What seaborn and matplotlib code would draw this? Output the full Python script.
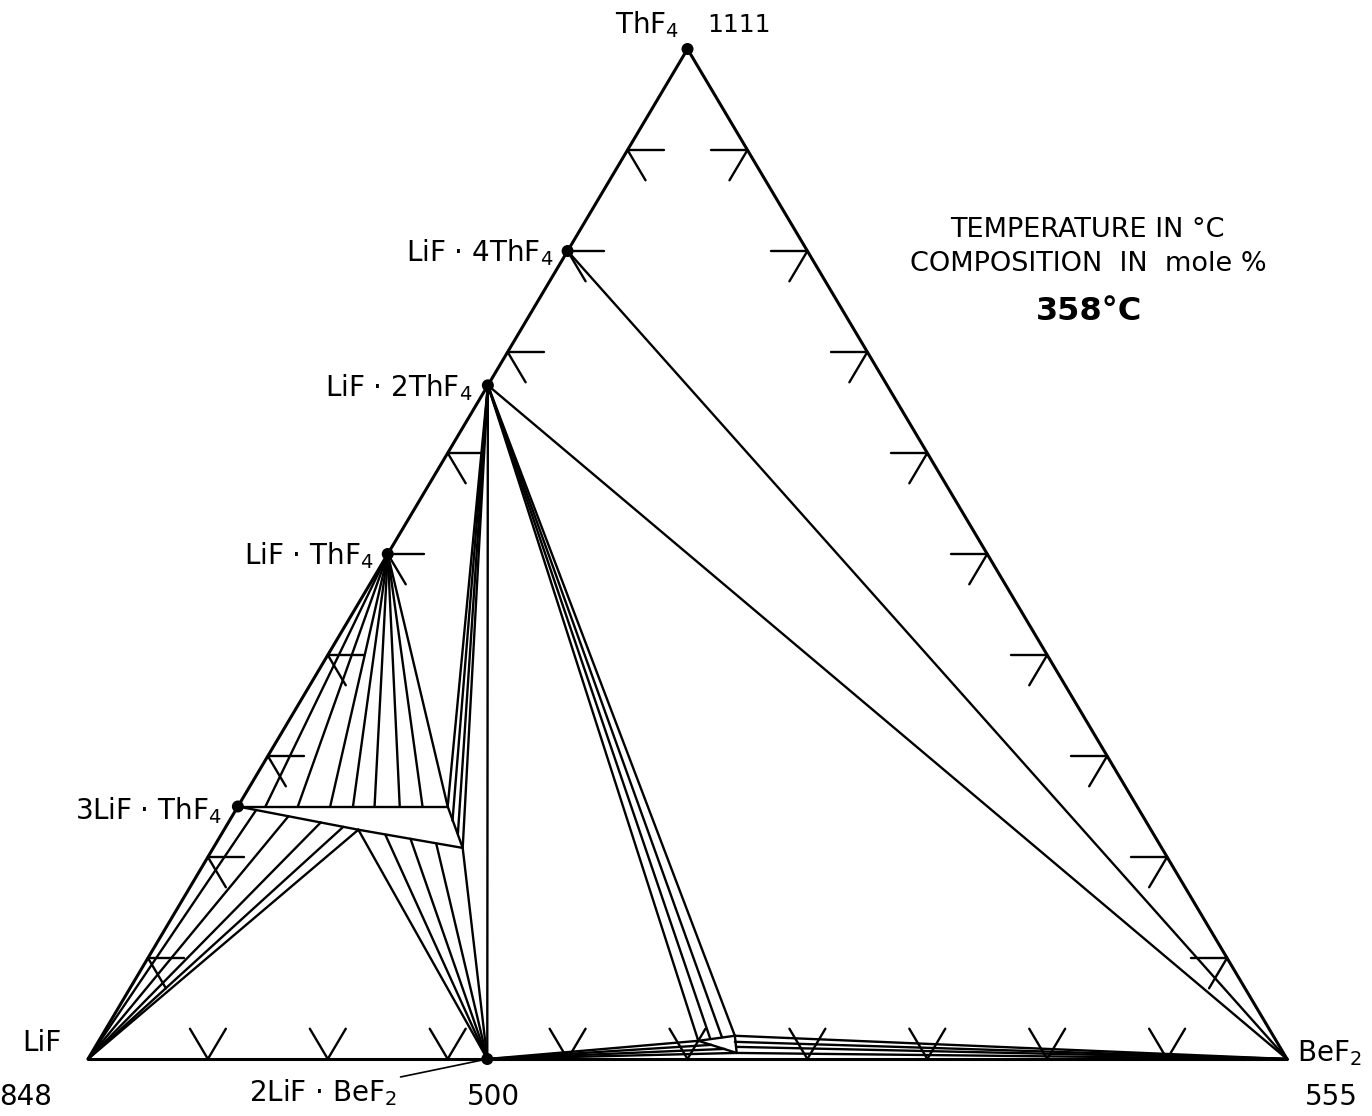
import numpy as np
import pandas as pd
import matplotlib
matplotlib.use("Agg")
import matplotlib.pyplot as plt
import seaborn as sns

# ---------------------------------------------------------------------------
# Compositions are (mol % BeF2, mol % ThF4); LiF makes up the balance.
# ---------------------------------------------------------------------------
LIF = (0.0, 0.0)
BEF2 = (100.0, 0.0)
THF4 = (0.0, 100.0)
LIF_4THF4 = (0.0, 80.0)
LIF_2THF4 = (0.0, 66.7)
LIF_THF4 = (0.0, 50.0)
LI3THF7 = (0.0, 25.0)          # 3LiF·ThF4
LI2BEF4 = (33.3, 0.0)          # 2LiF·BeF2

# 3LiF·ThF4 solid-solution field (corner points)
ss_bef2 = [0.0, 17.5, 20.8, 11.2]
ss_thf4 = [25.0, 25.0, 20.9, 22.7]

# tie lines LiF·ThF4 -> solid solution (upper edge of the field)
tie_lt_bef2 = [2.3, 5.0, 7.7, 9.6, 11.4, 13.5, 15.4, 17.5]
tie_lt_thf4 = [25.0, 25.0, 25.0, 25.0, 25.0, 25.0, 25.0, 25.0]

# tie lines LiF -> solid solution
tie_lif_bef2 = [1.7, 4.7, 7.7, 9.8, 11.2]
tie_lif_thf4 = [24.65, 24.04, 23.42, 22.99, 22.7]

# tie lines 2LiF·BeF2 -> solid solution
tie_lb_bef2 = [11.2, 13.7, 16.0, 18.4, 20.8]
tie_lb_thf4 = [22.7, 22.2, 21.8, 21.3, 20.9]

# tie lines LiF·2ThF4 -> solid solution
tie_l2t_ss_bef2 = [17.5, 18.6, 19.7, 20.8]
tie_l2t_ss_thf4 = [25.0, 23.6, 22.3, 20.9]

# liquid field at 358 °C (corners A, B, C)
liq_bef2 = [50.0, 52.8, 53.8]
liq_thf4 = [1.8, 2.3, 0.6]

# tie lines to the liquid
tie_l2t_liq_bef2 = [50.0, 50.9, 51.8, 52.8]
tie_l2t_liq_thf4 = [1.8, 2.0, 2.15, 2.3]
tie_lb_liq_bef2 = [50.0, 51.3, 52.6, 53.8]
tie_lb_liq_thf4 = [1.8, 1.4, 1.0, 0.6]
tie_be_liq_bef2 = [52.8, 53.1, 53.5, 53.8]
tie_be_liq_thf4 = [2.3, 1.7, 1.2, 0.6]

# grid marks along the edges (mol %)
tick_levels = [10, 20, 30, 40, 50, 60, 70, 80, 90]
TICK_LEN = 3.0


def to_xy(bef2, thf4):
    """Ternary composition -> plane coordinates (LiF left, BeF2 right, ThF4 top)."""
    return (bef2 + thf4 / 2.0) / 100.0, thf4 / 100.0


segments = []


def seg(p, q, kind):
    segments.append((p, q, kind))


# triangle
seg(LIF, BEF2, "edge")
seg(BEF2, THF4, "edge")
seg(THF4, LIF, "edge")

# solid solution outline
ss_pts = list(zip(ss_bef2, ss_thf4))
for i in range(len(ss_pts)):
    seg(ss_pts[i], ss_pts[(i + 1) % len(ss_pts)], "tie")

for b, t in zip(tie_lt_bef2, tie_lt_thf4):
    seg(LIF_THF4, (b, t), "tie")
for b, t in zip(tie_lif_bef2, tie_lif_thf4):
    seg(LIF, (b, t), "tie")
for b, t in zip(tie_lb_bef2, tie_lb_thf4):
    seg(LI2BEF4, (b, t), "tie")
for b, t in zip(tie_l2t_ss_bef2, tie_l2t_ss_thf4):
    seg(LIF_2THF4, (b, t), "tie")

seg(LIF_2THF4, LI2BEF4, "tie")
seg(LIF_2THF4, BEF2, "tie")
seg(LIF_4THF4, BEF2, "tie")

liq_pts = list(zip(liq_bef2, liq_thf4))
for i in range(len(liq_pts)):
    seg(liq_pts[i], liq_pts[(i + 1) % len(liq_pts)], "tie")
for b, t in zip(tie_l2t_liq_bef2, tie_l2t_liq_thf4):
    seg(LIF_2THF4, (b, t), "tie")
for b, t in zip(tie_lb_liq_bef2, tie_lb_liq_thf4):
    seg(LI2BEF4, (b, t), "tie")
for b, t in zip(tie_be_liq_bef2, tie_be_liq_thf4):
    seg(BEF2, (b, t), "tie")

# edge grid marks, drawn inward along the two other grid directions
for k in tick_levels:
    # base (LiF-BeF2)
    seg((k, 0), (k, TICK_LEN), "tick")
    seg((k, 0), (k - TICK_LEN, TICK_LEN), "tick")
    # left side (LiF-ThF4)
    seg((0, k), (TICK_LEN, k), "tick")
    seg((0, k), (TICK_LEN, k - TICK_LEN), "tick")
    # right side (BeF2-ThF4)
    b = 100 - k
    seg((b, k), (b - TICK_LEN, k), "tick")
    seg((b, k), (b, k - TICK_LEN), "tick")

rows = []
for i, (p, q, kind) in enumerate(segments):
    for b, t in (p, q):
        x, y = to_xy(b, t)
        rows.append({"seg": i, "x": x, "y": y, "kind": kind})
lines = pd.DataFrame(rows)

sns.set_theme(style="white")
plt.rcParams["font.family"] = ["DejaVu Sans"]
plt.rcParams["mathtext.default"] = "regular"
plt.rcParams["text.color"] = "black"

W, H = 1372, 1116
fig = plt.figure(figsize=(W / 100, H / 100), dpi=100)
ax = fig.add_axes([0, 0, 1, 1])
ax.set_xlim(-88 / 1199, (W - 88) / 1199)
ax.set_ylim(-(H - 1059) / 1010, 1059 / 1010)
ax.axis("off")

widths = {"edge": 2.2, "tie": 1.7, "tick": 1.7}
for kind, lw in widths.items():
    sns.lineplot(data=lines[lines.kind == kind], x="x", y="y", units="seg",
                 estimator=None, sort=False, color="black", lw=lw,
                 legend=False, ax=ax)

# compound points
dots = [THF4, LIF_4THF4, LIF_2THF4, LIF_THF4, LI3THF7, LI2BEF4]
dot_df = pd.DataFrame([to_xy(*d) for d in dots], columns=["x", "y"])
sns.scatterplot(data=dot_df, x="x", y="y", color="black", s=75,
                edgecolor="none", ax=ax, legend=False, zorder=5)

FS = 20


def label(comp, text, dx, dy, ha="right", **kw):
    x, y = to_xy(*comp)
    ax.annotate(text, (x, y), xytext=(dx * 0.72, dy * 0.72),
                textcoords="offset points", ha=ha, va="center",
                fontsize=kw.pop("fontsize", FS), color="black", **kw)


label(THF4, "ThF$_4$", -8, 24)
label(THF4, "1111", 20, 24, ha="left", fontsize=18)
label(LIF_4THF4, "LiF · 4ThF$_4$", -14, -2)
label(LIF_2THF4, "LiF · 2ThF$_4$", -16, -2)
label(LIF_THF4, "LiF · ThF$_4$", -14, -2)
label(LI3THF7, "3LiF · ThF$_4$", -16, -4)
label(LIF, "LiF", -46, 16, ha="center")
label(LIF, "848", -62, -38, ha="center")
label(BEF2, "BeF$_2$", 42, 6, ha="center")
label(BEF2, "555", 44, -38, ha="center")
label(LI2BEF4, "500", 6, -38, ha="center")

# 2LiF·BeF2 with leader line
x0, y0 = to_xy(*LI2BEF4)
ax.annotate("2LiF · BeF$_2$", (x0, y0), xytext=(-90 * 0.72, -34 * 0.72),
            textcoords="offset points", ha="right", va="center",
            fontsize=FS, color="black",
            arrowprops=dict(arrowstyle="-", color="black", lw=1.2,
                            shrinkA=0, shrinkB=2))

fig.text(1087 / W, 1 - 230 / H, "TEMPERATURE IN °C", ha="center", va="center",
         fontsize=19.5, color="black")
fig.text(1088 / W, 1 - 264 / H, "COMPOSITION  IN  mole %", ha="center",
         va="center", fontsize=19.5, color="black")
fig.text(1089 / W, 1 - 312 / H, "358°C", ha="center", va="center",
         fontsize=23, fontweight="bold", color="black")

fig.savefig("out.png", dpi=100, facecolor="white")
